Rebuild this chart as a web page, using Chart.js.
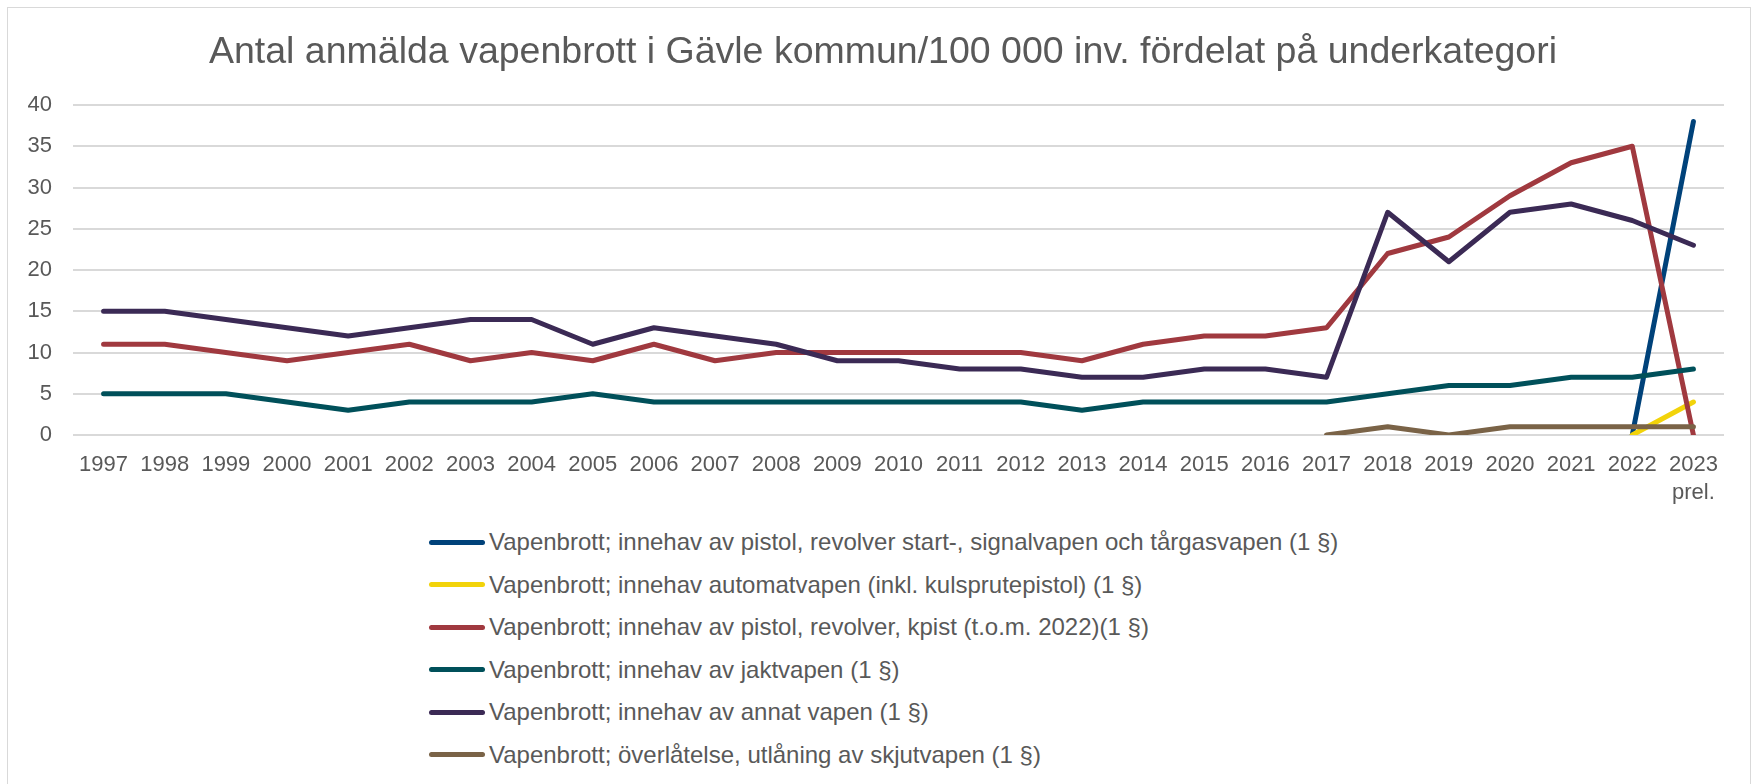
<!DOCTYPE html>
<html>
<head>
<meta charset="utf-8">
<script src="https://cdn.jsdelivr.net/npm/chart.js@4"></script>
<style>
  html, body { margin: 0; padding: 0; background: #fff; }
  body { width: 1753px; height: 784px; overflow: hidden; position: relative; font-family: "Liberation Sans", Arial, sans-serif; }
  .frame { position: absolute; left: 7px; top: 7px; width: 1744px; height: 800px; border: 1px solid #d9d9d9; box-sizing: border-box; }
  #wrap { position: absolute; left: 0; top: 0; width: 1753px; height: 507px; }
  #legend { position: absolute; left: 429px; top: 521px; }
  .item { display: flex; align-items: center; height: 42.5px; color: #595959; font-size: 24px; white-space: nowrap; }
  .swatch { width: 56px; height: 5px; border-radius: 3px; margin-right: 4px; }
</style>
</head>
<body>
<div class="frame"></div>
<div id="wrap"><canvas id="chart"></canvas></div>
<div id="legend"></div>
<script>
// Antal anmälda vapenbrott i Gävle kommun per 100 000 inv.
const years = ['1997', '1998', '1999', '2000', '2001', '2002', '2003', '2004', '2005', '2006',
  '2007', '2008', '2009', '2010', '2011', '2012', '2013', '2014', '2015', '2016',
  '2017', '2018', '2019', '2020', '2021', '2022', ['2023', 'prel.']];

const seriesNames = [
  'Vapenbrott; innehav av pistol, revolver start-, signalvapen och tårgasvapen (1 §)',
  'Vapenbrott; innehav automatvapen (inkl. kulsprutepistol) (1 §)',
  'Vapenbrott; innehav av pistol, revolver, kpist (t.o.m. 2022)(1 §)',
  'Vapenbrott; innehav av jaktvapen (1 §)',
  'Vapenbrott; innehav av annat vapen (1 §)',
  'Vapenbrott; överlåtelse, utlåning av skjutvapen (1 §)'
];

const N = null;
const pistolStart = [N, N, N, N, N, N, N, N, N, N, N, N, N, N, N, N, N, N, N, N, N, N, N, N, N, 0, 38];
const automat = [N, N, N, N, N, N, N, N, N, N, N, N, N, N, N, N, N, N, N, N, N, N, N, N, N, 0, 4];
const pistolKpist = [11, 11, 10, 9, 10, 11, 9, 10, 9, 11, 9, 10, 10, 10, 10, 10, 9, 11, 12, 12, 13, 22, 24, 29, 33, 35, 0];
const jakt = [5, 5, 5, 4, 3, 4, 4, 4, 5, 4, 4, 4, 4, 4, 4, 4, 3, 4, 4, 4, 4, 5, 6, 6, 7, 7, 8];
const annat = [15, 15, 14, 13, 12, 13, 14, 14, 11, 13, 12, 11, 9, 9, 8, 8, 7, 7, 8, 8, 7, 27, 21, 27, 28, 26, 23];
const overlatelse = [N, N, N, N, N, N, N, N, N, N, N, N, N, N, N, N, N, N, N, N, 0, 1, 0, 1, 1, 1, 1];

const yTicks = [0, 5, 10, 15, 20, 25, 30, 35, 40];

const colors = ['#00427a', '#f2d30a', '#a0393f', '#00505a', '#3b2a55', '#7a6347'];
const allValues = [pistolStart, automat, pistolKpist, jakt, annat, overlatelse];

const textColor = '#595959';
const font = '"Liberation Sans", Arial, sans-serif';

const datasets = allValues.map(function(vals, i) {
  return {
    label: seriesNames[i],
    data: vals,
    borderColor: colors[i],
    backgroundColor: colors[i],
    borderWidth: 5,
    pointRadius: 0,
    borderCapStyle: 'round',
    borderJoinStyle: 'round',
    tension: 0,
    spanGaps: false,
    order: allValues.length - i  // later series on top, like Excel
  };
});

// the original title is centred on the frame, not on the plot
const titleShift = {
  id: 'titleShift',
  afterLayout: function(chart) {
    if (chart.titleBlock) chart.titleBlock.left = 42;
  }
};

const chart = new Chart(document.getElementById('chart'), {
  type: 'line',
  data: { labels: years, datasets: datasets },
  plugins: [titleShift],
  options: {
    responsive: true,
    maintainAspectRatio: false,
    animation: false,
    layout: { padding: { left: 0, right: 29, top: 0, bottom: 0 } },
    plugins: {
      legend: { display: false },
      tooltip: { enabled: false },
      title: {
        display: true,
        text: 'Antal anmälda vapenbrott i Gävle kommun/100 000 inv. fördelat på underkategori',
        color: textColor,
        font: { family: font, size: 37.5, weight: 'normal', lineHeight: 1.2 },
        padding: { top: 30, bottom: 30 }
      }
    },
    scales: {
      x: {
        offset: true,
        grid: { display: false, drawTicks: false },
        border: { display: false },
        ticks: {
          color: textColor,
          font: { family: font, size: 22, lineHeight: 1.27 },
          padding: 16,
          maxRotation: 0,
          autoSkip: false
        },
        afterFit: function(s) { s.height = 72; }
      },
      y: {
        min: 0,
        max: 40,
        afterBuildTicks: function(s) { s.ticks = yTicks.map(function(v) { return { value: v }; }); },
        grid: { color: '#d9d9d9', lineWidth: 2, drawTicks: false },
        border: { display: false },
        ticks: {
          color: textColor,
          font: { family: font, size: 22 },
          padding: 21
        },
        afterFit: function(s) { s.width = 73; }
      }
    }
  }
});

// legend as a vertical list, like the original
const legendBox = document.getElementById('legend');
chart.data.datasets.forEach(function(ds) {
  const row = document.createElement('div');
  row.className = 'item';
  const sw = document.createElement('span');
  sw.className = 'swatch';
  sw.style.background = ds.borderColor;
  const txt = document.createElement('span');
  txt.textContent = ds.label;
  row.appendChild(sw);
  row.appendChild(txt);
  legendBox.appendChild(row);
});
</script>
</body>
</html>
